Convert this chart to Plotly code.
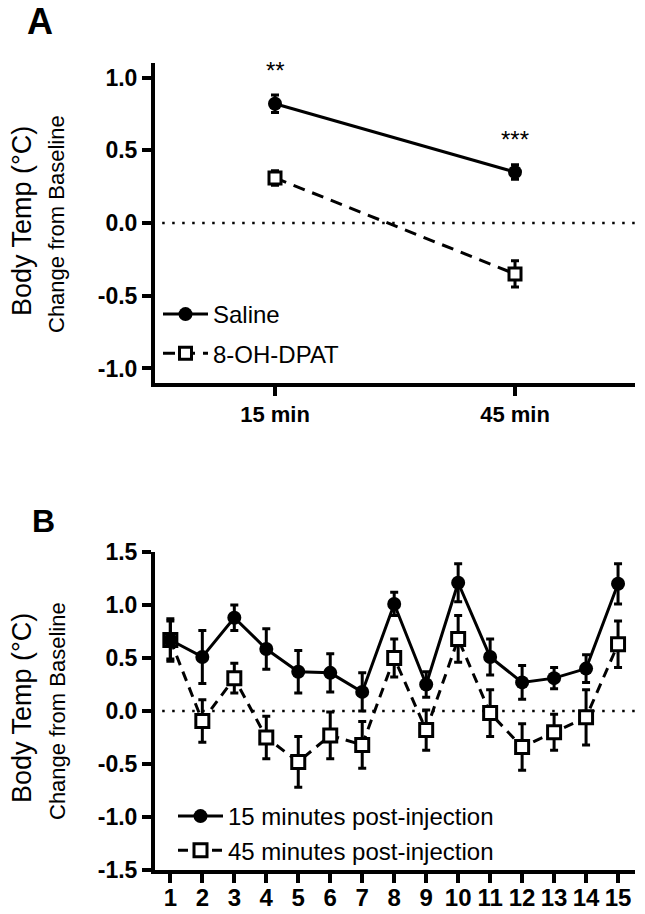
import plotly.graph_objects as go

# ---------------- Panel A data ----------------
a_categories = ["15 min", "45 min"]
a_saline = [0.82, 0.35]
a_saline_err = [0.06, 0.05]
a_dpat = [0.31, -0.35]
a_dpat_err = [0.05, 0.09]
a_sig = ["**", "***"]
a_sig_y = [1.05, 0.575]

# ---------------- Panel B data ----------------
b_x = list(range(1, 16))
b_15 = [0.67, 0.51, 0.88, 0.585, 0.37, 0.36, 0.18, 1.01, 0.25, 1.21, 0.51, 0.27, 0.31, 0.40, 1.20]
b_15_err = [0.20, 0.25, 0.12, 0.19, 0.20, 0.18, 0.18, 0.11, 0.12, 0.18, 0.17, 0.16, 0.10, 0.13, 0.19]
b_45 = [0.67, -0.095, 0.31, -0.25, -0.48, -0.23, -0.32, 0.50, -0.18, 0.68, -0.02, -0.34, -0.20, -0.06, 0.63]
b_45_err = [0.18, 0.20, 0.14, 0.20, 0.24, 0.22, 0.22, 0.18, 0.19, 0.22, 0.22, 0.22, 0.17, 0.26, 0.22]
b_xticks = [str(i) for i in b_x]

W, H = 645, 914
FONT = "Liberation Sans, Arial, sans-serif"

def px_x(p):
    return p / W

def px_y(p):
    return 1 - p / H

fig = go.Figure()

err_style = dict(type="data", thickness=3, width=4, color="black")

# Panel A traces
fig.add_trace(go.Scatter(
    x=[0, 1], y=a_dpat, name="8-OH-DPAT", xaxis="x", yaxis="y",
    mode="lines+markers",
    line=dict(color="black", width=3, dash="12px,8px"),
    marker=dict(symbol="square", size=12, color="white", line=dict(color="black", width=3)),
    error_y=dict(array=a_dpat_err, **err_style),
    legend="legend", legendrank=2, legendgroup="a2",
))
fig.add_trace(go.Scatter(
    x=[0, 1], y=a_saline, name="Saline", xaxis="x", yaxis="y",
    mode="lines+markers",
    line=dict(color="black", width=3),
    marker=dict(symbol="circle", size=14, color="black"),
    error_y=dict(array=a_saline_err, **err_style),
    legend="legend", legendrank=1, legendgroup="a1",
))

# Panel B traces
fig.add_trace(go.Scatter(
    x=b_x, y=b_45, name="45 minutes post-injection", xaxis="x2", yaxis="y2",
    mode="lines+markers",
    line=dict(color="black", width=3, dash="10px,7px"),
    marker=dict(symbol="square", size=13, color="white", line=dict(color="black", width=3)),
    error_y=dict(array=b_45_err, **err_style),
    legend="legend2", legendrank=2,
))
fig.add_trace(go.Scatter(
    x=b_x, y=b_15, name="15 minutes post-injection", xaxis="x2", yaxis="y2",
    mode="lines+markers",
    line=dict(color="black", width=3),
    marker=dict(symbol="circle", size=14, color="black"),
    error_y=dict(array=b_15_err, **err_style),
    legend="legend2", legendrank=1,
))

axis_common = dict(showline=True, linewidth=4, linecolor="black", ticks="outside",
                   ticklen=9, tickwidth=4, tickcolor="black", showgrid=False,
                   zeroline=False, mirror=False, automargin=False)

xa_dom = [px_x(155), px_x(635)]

fig.update_layout(
    width=W, height=H,
    margin=dict(l=0, r=0, t=0, b=0, pad=0, autoexpand=False),
    paper_bgcolor="white", plot_bgcolor="white",
    font=dict(family=FONT, color="black"),
    xaxis=dict(domain=xa_dom, anchor="y", range=[-0.5, 1.5],
               tickmode="array", tickvals=[0, 1], ticktext=a_categories,
               tickfont=dict(size=22, weight="bold"), **axis_common),
    yaxis=dict(domain=[px_y(383), px_y(63)], anchor="x", range=[-1.1, 1.1],
               tickmode="array", tickvals=[-1.0, -0.5, 0.0, 0.5, 1.0],
               ticktext=["-1.0", "-0.5", "0.0", "0.5", "1.0"],
               tickfont=dict(size=23, weight="bold"), **axis_common),
    xaxis2=dict(domain=xa_dom, anchor="y2", range=[0.52, 15.53],
                tickmode="array", tickvals=b_x, ticktext=b_xticks,
                tickfont=dict(size=24, weight="bold"), ticklabelstandoff=-6,
                **axis_common),
    yaxis2=dict(domain=[px_y(870), px_y(552)], anchor="x2", range=[-1.5, 1.5],
                tickmode="array", tickvals=[-1.5, -1.0, -0.5, 0.0, 0.5, 1.0, 1.5],
                ticktext=["-1.5", "-1.0", "-0.5", "0.0", "0.5", "1.0", "1.5"],
                tickfont=dict(size=23, weight="bold"), **axis_common),
    legend=dict(x=px_x(158), y=px_y(292), xanchor="left", yanchor="top",
                bgcolor="rgba(0,0,0,0)", font=dict(size=24, family=FONT),
                tracegroupgap=5, itemwidth=45),
    legend2=dict(x=px_x(173), y=px_y(794), xanchor="left", yanchor="top",
                 bgcolor="rgba(0,0,0,0)", font=dict(size=24, family=FONT),
                 itemwidth=45),
    showlegend=True,
)

# zero reference lines
for xr, yr in (("x domain", "y"), ("x2 domain", "y2")):
    fig.add_shape(type="line", xref=xr, yref=yr, x0=0.015, x1=1, y0=0, y1=0,
                  line=dict(color="black", width=2.5, dash="2.5px,7.5px"), layer="below")

# significance stars
for i, (s, yv) in enumerate(zip(a_sig, a_sig_y)):
    fig.add_annotation(x=i, y=yv, xref="x", yref="y", text=s, showarrow=False,
                       font=dict(size=24, family=FONT), xanchor="center", yanchor="middle")

# panel letters
fig.add_annotation(x=px_x(40), y=px_y(22), xref="paper", yref="paper", text="<b>A</b>",
                   showarrow=False, font=dict(size=36, family=FONT),
                   xanchor="center", yanchor="middle")
fig.add_annotation(x=px_x(43), y=px_y(521), xref="paper", yref="paper", text="<b>B</b>",
                   showarrow=False, font=dict(size=32, family=FONT),
                   xanchor="center", yanchor="middle")

# y-axis titles
for cy in (221, 708):
    fig.add_annotation(x=px_x(22), y=px_y(cy), xref="paper", yref="paper",
                       text="Body Temp (°C)", textangle=-90, showarrow=False,
                       font=dict(size=27, family=FONT), xanchor="center", yanchor="middle")
    fig.add_annotation(x=px_x(57), y=px_y(cy + 3), xref="paper", yref="paper",
                       text="Change from Baseline", textangle=-90, showarrow=False,
                       font=dict(size=22, family=FONT), xanchor="center", yanchor="middle")

fig.write_html("out.html", config={"displayModeBar": False},
               post_script="document.body.style.margin='0';")
